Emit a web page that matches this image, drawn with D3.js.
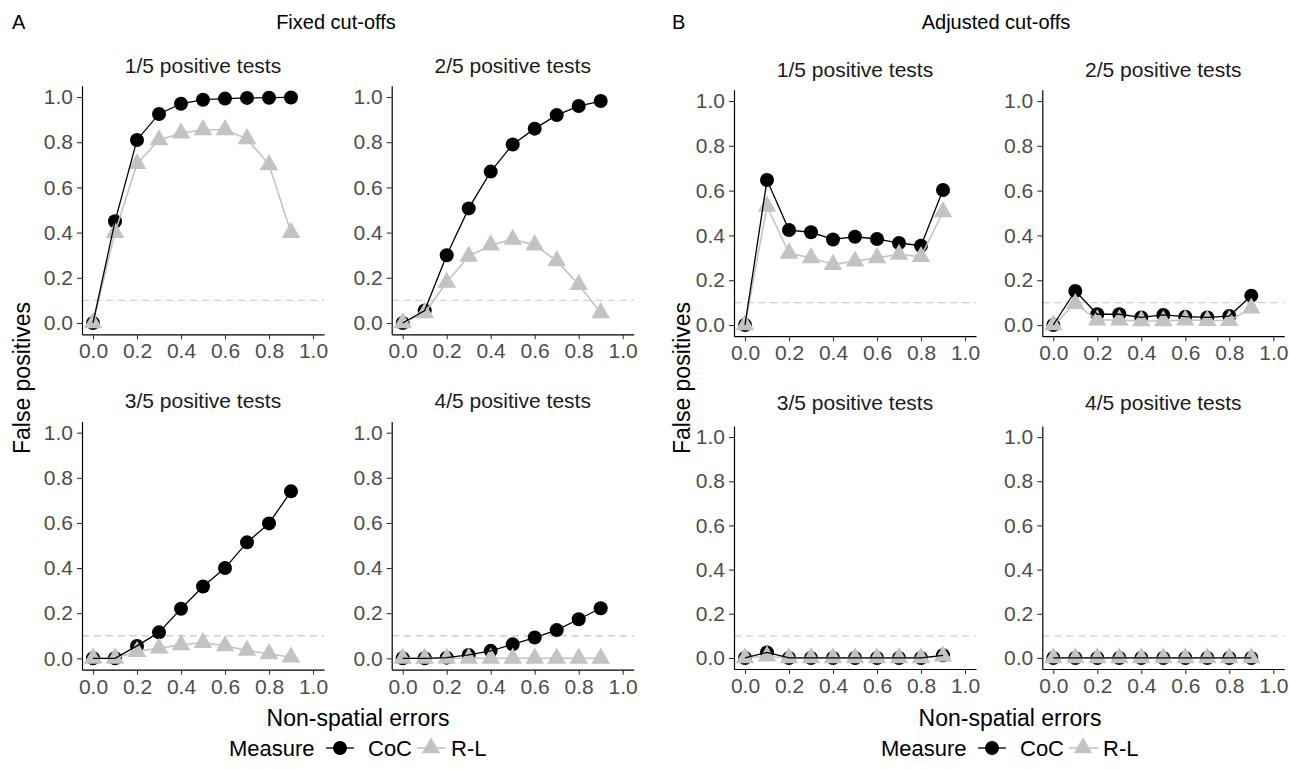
<!DOCTYPE html>
<html><head><meta charset="utf-8">
<script src="https://cdn.jsdelivr.net/npm/d3@7"></script>
<style>
body{margin:0;background:#fff}
svg{display:block}
text{font-family:"Liberation Sans",Arial,Helvetica,sans-serif}
</style>
</head><body>
<svg id="chart" width="1289" height="769"></svg>
<script>
// ---------- data ----------
const errorLevels = [0, 0.1, 0.2, 0.3, 0.4, 0.5, 0.6, 0.7, 0.8, 0.9];
const xTicks = [0, 0.2, 0.4, 0.6, 0.8, 1.0];
const yTicks = [0, 0.2, 0.4, 0.6, 0.8, 1.0];
const facetTitles = ["1/5 positive tests", "2/5 positive tests", "3/5 positive tests", "4/5 positive tests"];
const groupTitles = ["Fixed cut-offs", "Adjusted cut-offs"];
const groupLetters = ["A", "B"];
const measures = ["CoC", "R-L"];
const threshold = 0.1;

const fixed1CoC = [0, 0.45, 0.81, 0.925, 0.97, 0.988, 0.993, 0.996, 0.997, 0.998];
const fixed1RL  = [0, 0.40, 0.705, 0.81, 0.84, 0.855, 0.855, 0.815, 0.70, 0.40];
const fixed2CoC = [0, 0.055, 0.30, 0.507, 0.67, 0.79, 0.86, 0.92, 0.96, 0.982];
const fixed2RL  = [0, 0.045, 0.18, 0.295, 0.345, 0.37, 0.345, 0.275, 0.17, 0.045];
const fixed3CoC = [0, 0, 0.055, 0.115, 0.22, 0.318, 0.40, 0.514, 0.598, 0.74];
const fixed3RL  = [0, 0, 0.03, 0.045, 0.06, 0.07, 0.055, 0.035, 0.02, 0.005];
const fixed4CoC = [0, 0, 0.003, 0.015, 0.033, 0.062, 0.092, 0.125, 0.173, 0.222];
const fixed4RL  = [0, 0, 0, 0, 0, 0, 0, 0, 0, 0];
const adj1CoC = [0, 0.647, 0.424, 0.414, 0.382, 0.394, 0.384, 0.366, 0.354, 0.603];
const adj1RL  = [0, 0.53, 0.32, 0.30, 0.27, 0.285, 0.30, 0.315, 0.305, 0.505];
const adj2CoC = [0, 0.152, 0.048, 0.048, 0.034, 0.045, 0.037, 0.034, 0.04, 0.131];
const adj2RL  = [0, 0.095, 0.022, 0.022, 0.018, 0.018, 0.022, 0.02, 0.02, 0.075];
const adj3CoC = [0, 0.025, 0, 0, 0, 0, 0, 0, 0, 0.012];
const adj3RL  = [0, 0.008, 0, 0, 0, 0, 0, 0, 0, 0.008];
const adj4CoC = [0, 0, 0, 0, 0, 0, 0, 0, 0, 0];
const adj4RL  = [0, 0, 0, 0, 0, 0, 0, 0, 0, 0];

const groupSeries = [
  [[fixed1CoC, fixed1RL], [fixed2CoC, fixed2RL], [fixed3CoC, fixed3RL], [fixed4CoC, fixed4RL]],
  [[adj1CoC, adj1RL], [adj2CoC, adj2RL], [adj3CoC, adj3RL], [adj4CoC, adj4RL]]
];

// ---------- layout ----------
const svg = d3.select("#chart");
const GREY = "#c3c3c3";
const panelW = 242;
const groupLayout = [
  {offset: 0,   headOffset: 0,   colLeft: [82, 391.7], rowTop: [85.7, 421.4], rowBottom: [334.3, 669.6], titleY: [65, 400]},
  {offset: 652, headOffset: 660, colLeft: [734, 1042.3], rowTop: [89.8, 426], rowBottom: [336.2, 669], titleY: [69, 402]}
];
const circleSym = d3.symbol().type(d3.symbolCircle).size(Math.PI * 7 * 7);
const triSym = d3.symbol().type(d3.symbolTriangle).size(150);

groupLayout.forEach((g, gi) => {
  // group letter and header
  svg.append("text").attr("x", 12 + g.headOffset).attr("y", 29)
    .attr("font-size", 20).attr("fill", "#000").text(groupLetters[gi]);
  svg.append("text").attr("x", 336 + g.headOffset).attr("y", 29)
    .attr("text-anchor", "middle").attr("font-size", 20).attr("fill", "#000").text(groupTitles[gi]);

  for (let p = 0; p < 4; p++) {
    const col = p % 2, row = Math.floor(p / 2);
    const left = g.colLeft[col], top = g.rowTop[row], bottom = g.rowBottom[row];
    const x = d3.scaleLinear().domain([-0.05, 1.05]).range([left, left + panelW]);
    const y = d3.scaleLinear().domain([-0.05, 1.05]).range([bottom, top]);
    const pg = svg.append("g");

    // facet title
    pg.append("text").attr("x", left + panelW / 2).attr("y", g.titleY[row] + 7.5)
      .attr("text-anchor", "middle").attr("font-size", 21).attr("fill", "#1a1a1a").text(facetTitles[p]);

    // threshold dashed line
    pg.append("line").attr("x1", left).attr("x2", left + panelW)
      .attr("y1", y(threshold)).attr("y2", y(threshold))
      .attr("stroke", "#cfcfcf").attr("stroke-width", 1.3).attr("stroke-dasharray", "7,5");

    // axes
    const ax = pg.append("g").attr("transform", `translate(0,${bottom})`)
      .call(d3.axisBottom(x).tickValues(xTicks).tickFormat(d3.format(".1f")).tickSize(5).tickSizeOuter(0).tickPadding(4));
    const ay = pg.append("g").attr("transform", `translate(${left},0)`)
      .call(d3.axisLeft(y).tickValues(yTicks).tickFormat(d3.format(".1f")).tickSize(5).tickSizeOuter(0).tickPadding(4));
    [ax, ay].forEach(a => {
      a.select(".domain").attr("stroke", "#000").attr("stroke-width", 1.2);
      a.selectAll(".tick line").attr("stroke", "#333").attr("stroke-width", 1.1);
      a.selectAll(".tick text").attr("font-size", 21).attr("fill", "#4d4d4d")
        .attr("font-family", '"Liberation Sans",Arial,sans-serif');
    });

    const series = groupSeries[gi][p];
    const line = d3.line().x((d, i) => x(errorLevels[i])).y(d => y(d));

    // points
    pg.selectAll(null).data(series[0]).enter().append("path")
      .attr("d", circleSym).attr("fill", "#000")
      .attr("transform", (d, i) => `translate(${x(errorLevels[i])},${y(d)})`);
    pg.selectAll(null).data(series[1]).enter().append("path")
      .attr("d", triSym).attr("fill", GREY)
      .attr("transform", (d, i) => `translate(${x(errorLevels[i])},${y(d)})`);
    // lines
    pg.append("path").datum(series[1]).attr("d", line)
      .attr("fill", "none").attr("stroke", GREY).attr("stroke-width", 1.6);
    pg.append("path").datum(series[0]).attr("d", line)
      .attr("fill", "none").attr("stroke", "#000").attr("stroke-width", 1.3);
  }

  // axis titles
  svg.append("text").attr("transform", `translate(${30 + g.headOffset},378) rotate(-90)`)
    .attr("text-anchor", "middle").attr("font-size", 23).attr("fill", "#000").text("False positives");
  svg.append("text").attr("x", 358 + g.offset).attr("y", 726)
    .attr("text-anchor", "middle").attr("font-size", 23).attr("fill", "#000").text("Non-spatial errors");

  // legend
  const lg = svg.append("g").attr("transform", `translate(${g.offset},0)`);
  const ly = 748;
  lg.append("text").attr("x", 229).attr("y", ly + 7.5).attr("font-size", 22).attr("fill", "#000").text("Measure");
  lg.append("line").attr("x1", 326).attr("x2", 354).attr("y1", ly).attr("y2", ly).attr("stroke", "#000").attr("stroke-width", 1.3);
  lg.append("path").attr("d", circleSym).attr("transform", `translate(340,${ly})`).attr("fill", "#000");
  lg.append("text").attr("x", 368).attr("y", ly + 7.5).attr("font-size", 22).attr("fill", "#000").text(measures[0]);
  lg.append("line").attr("x1", 417).attr("x2", 446).attr("y1", ly).attr("y2", ly).attr("stroke", GREY).attr("stroke-width", 1.6);
  lg.append("path").attr("d", triSym).attr("transform", `translate(431,${ly})`).attr("fill", GREY);
  lg.append("text").attr("x", 451).attr("y", ly + 7.5).attr("font-size", 22).attr("fill", "#000").text(measures[1]);
});
</script>
</body></html>
